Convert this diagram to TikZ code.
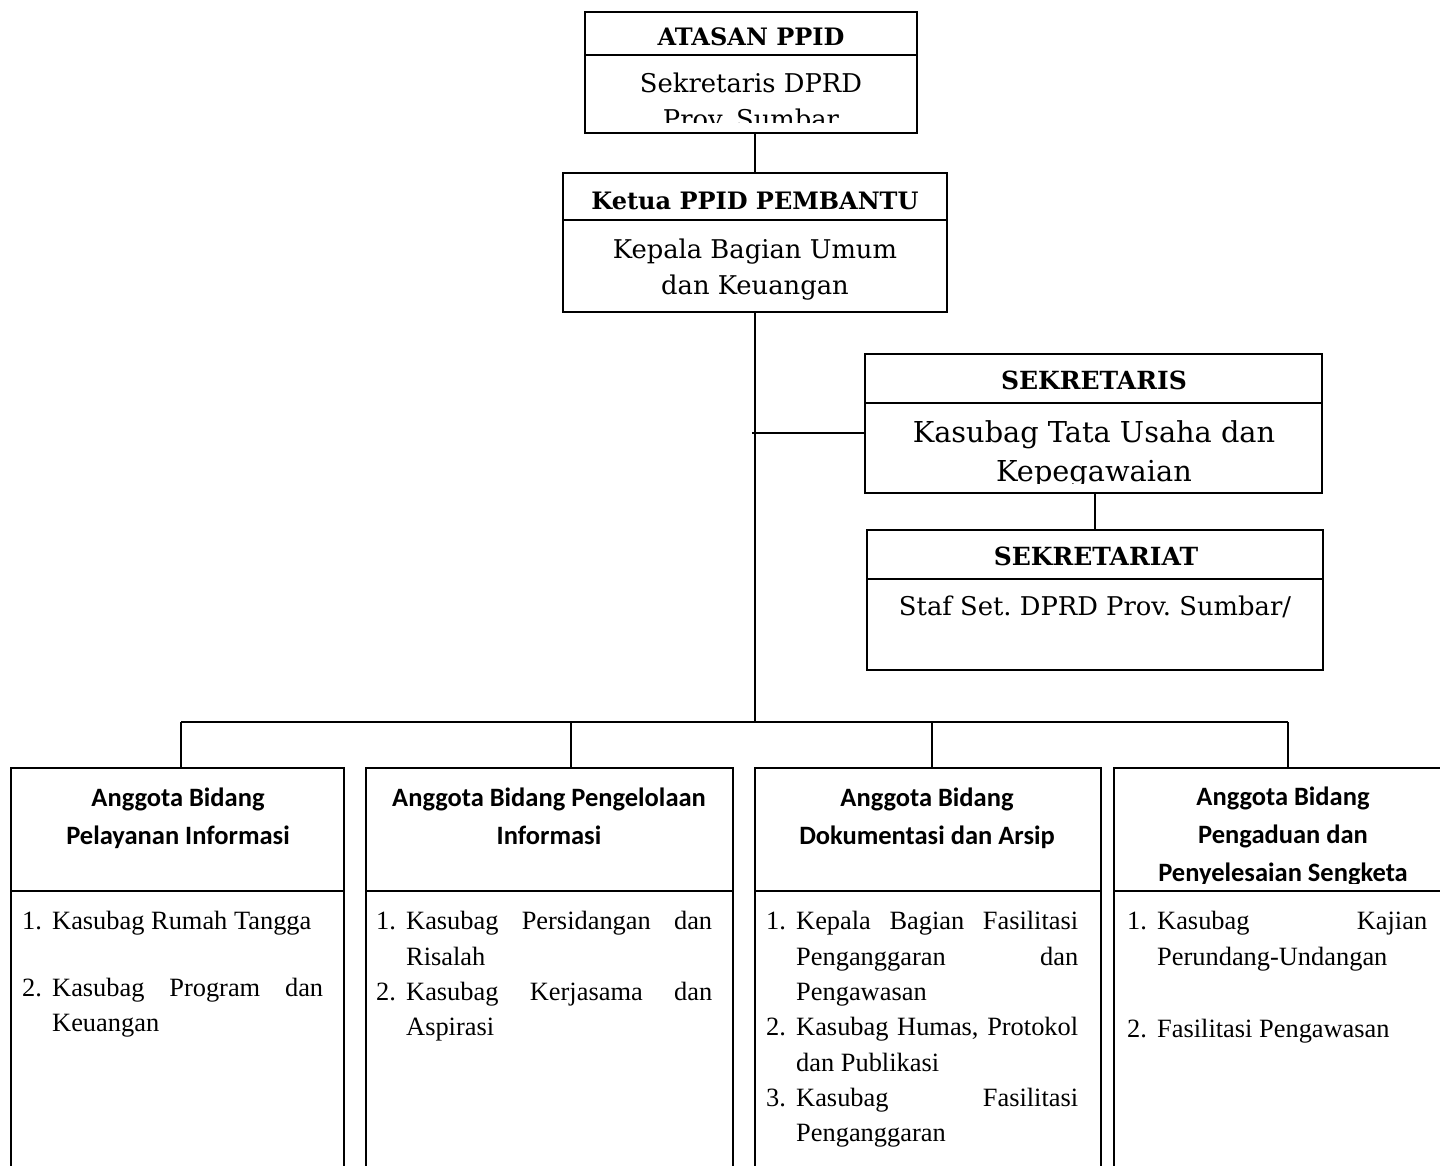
\documentclass[tikz,border=0pt]{standalone}
\usepackage{fontspec}
\setmainfont{Liberation Serif}
\newfontfamily\bkfont{DejaVu Serif}
\newfontfamily\clfont{Carlito}
\newcommand\jl[3]{\strut\makebox[30pt][l]{#1}\makebox[#2][s]{#3}}
\newcommand\rl[2]{\strut\makebox[30pt][l]{#1}#2}
\begin{document}
\frenchspacing
\begin{tikzpicture}[x=1pt,y=-1pt,
  bx/.style={draw, line width=1.6pt, rectangle, inner sep=0pt, outer sep=0pt, anchor=north west},
  ln/.style={line width=1.6pt},
  tophd/.style={font=\bkfont\bfseries\fontsize{24}{28}\selectfont},
  tophdb/.style={font=\bkfont\bfseries\fontsize{25}{29}\selectfont},
  topbd/.style={font=\bkfont\fontsize{25.8}{36}\selectfont, align=center, inner sep=0pt},
  bothd/.style={font=\clfont\bfseries\fontsize{26.5}{38}\selectfont, align=center, inner sep=0pt},
  lst/.style={font=\fontsize{26.4}{35.3}\selectfont, align=left, inner sep=0pt, anchor=north west}]
\clip (0,0) rectangle (1440,1166);

% ATASAN PPID
\node[bx, minimum width=332pt, minimum height=43pt] (atH) at (585,12) {};
\node[tophd, inner sep=0pt] (atL) at (751,36.5) {ATASAN PPID};
\node[bx, minimum width=332pt, minimum height=78pt] (atB) at (585,55) {};
\begin{scope}
\clip (585,55) rectangle (917,123);
\node[topbd] (atT) at (751,103) {\strut Sekretaris DPRD\\\strut Prov. Sumbar};
\end{scope}

% Ketua
\node[bx, minimum width=384pt, minimum height=47pt] (ktH) at (563,173) {};
\node[tophd, inner sep=0pt] (ktL) at (755,201) {Ketua PPID PEMBANTU};
\node[bx, minimum width=384pt, minimum height=92pt] (ktB) at (563,220) {};
\node[topbd] (ktT) at (755,269) {\strut Kepala Bagian Umum\\\strut dan Keuangan};

% Sekretaris
\node[bx, minimum width=457pt, minimum height=49pt] (skH) at (865,354) {};
\node[tophdb, inner sep=0pt] (skL) at (1094,380) {SEKRETARIS};
\node[bx, minimum width=457pt, minimum height=90pt] (skB) at (865,403) {};
\begin{scope}
\clip (865,403) rectangle (1322,483);
\node[topbd, font=\bkfont\fontsize{28.8}{39}\selectfont] (skT) at (1094,454) {\strut Kasubag Tata Usaha dan\\\strut Kepegawaian};
\end{scope}

% Sekretariat
\node[bx, minimum width=456pt, minimum height=49pt] (srH) at (867,530) {};
\node[tophdb, inner sep=0pt] (srL) at (1096,556.5) {SEKRETARIAT};
\node[bx, minimum width=456pt, minimum height=91pt] (srB) at (867,579) {};
\node[topbd] (srT) at (1095,608) {\strut Staf Set. DPRD Prov. Sumbar/};

% bottom boxes
\node[bx, minimum width=333pt, minimum height=123pt] (b1H) at (11,768) {};
\node[bx, minimum width=333pt, minimum height=320pt] (b1B) at (11,891) {};
\node[bx, minimum width=367pt, minimum height=123pt] (b2H) at (366,768) {};
\node[bx, minimum width=367pt, minimum height=320pt] (b2B) at (366,891) {};
\node[bx, minimum width=346pt, minimum height=123pt] (b3H) at (755,768) {};
\node[bx, minimum width=346pt, minimum height=320pt] (b3B) at (755,891) {};
\node[bx, minimum width=337pt, minimum height=123pt] (b4H) at (1114,768) {};
\node[bx, minimum width=337pt, minimum height=320pt] (b4B) at (1114,891) {};

\node[bothd] (h1) at (178,818) {\strut Anggota Bidang\\\strut Pelayanan Informasi};
\node[bothd] (h2) at (549,818) {\strut Anggota Bidang Pengelolaan\\\strut Informasi};
\node[bothd] (h3) at (927,818) {\strut Anggota Bidang\\\strut Dokumentasi dan Arsip};
\begin{scope}
\clip (1114,768) rectangle (1451,883);
\node[bothd] (h4) at (1283,836) {\strut Anggota Bidang\\\strut Pengaduan dan\\\strut Penyelesaian Sengketa};
\end{scope}

% lists
\node[lst] (l1) at (22,905) {\rl{1.}{Kasubag Rumah Tangga}\\[31pt]
  \jl{2.}{271pt}{Kasubag Program dan}\\
  \rl{}{Keuangan}};
\node[lst] (l2) at (376,905) {\jl{1.}{306pt}{Kasubag Persidangan dan}\\
  \rl{}{Risalah}\\
  \jl{2.}{306pt}{Kasubag Kerjasama dan}\\
  \rl{}{Aspirasi}};
\node[lst] (l3) at (766,905) {\jl{1.}{282pt}{Kepala Bagian Fasilitasi}\\
  \jl{}{282pt}{Penganggaran dan}\\
  \rl{}{Pengawasan}\\
  \jl{2.}{282pt}{Kasubag Humas, Protokol}\\
  \rl{}{dan Publikasi}\\
  \jl{3.}{282pt}{Kasubag Fasilitasi}\\
  \rl{}{Penganggaran}};
\node[lst] (l4) at (1127,905) {\jl{1.}{270pt}{Kasubag Kajian}\\
  \rl{}{Perundang-Undangan}\\[37pt]
  \rl{2.}{Fasilitasi Pengawasan}};

% connectors
\coordinate (bus) at (755,722);
\coordinate (sj) at (752,433);
\coordinate (d1) at (181,722);
\coordinate (d2) at (571,722);
\coordinate (d3) at (932,722);
\coordinate (d4) at (1288,722);
\draw[ln] (ktH.north) -- (ktH.north |- atB.south);
\draw[ln] (ktB.south) -- (bus);
\draw[ln] (sj) -- (sj -| skB.west);
\draw[ln] (srH.north) -- (srH.north |- skB.south);
\draw[ln] (d1) -- (d4);
\draw[ln] (d1) -- (d1 |- b1H.north);
\draw[ln] (d2) -- (d2 |- b2H.north);
\draw[ln] (d3) -- (d3 |- b3H.north);
\draw[ln] (d4) -- (d4 |- b4H.north);
\end{tikzpicture}
\end{document}
